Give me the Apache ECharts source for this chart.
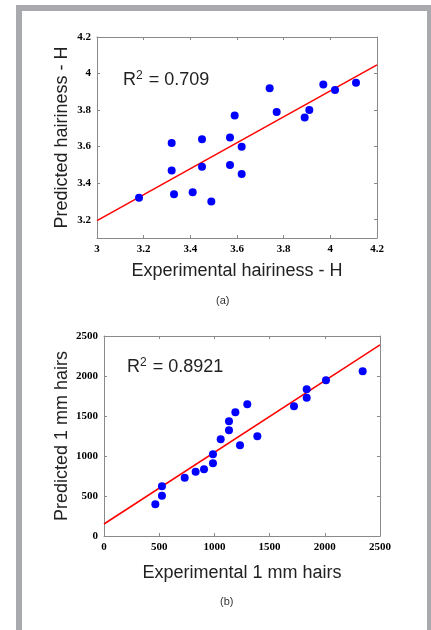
<!DOCTYPE html>
<html>
<head>
<meta charset="utf-8">
<script src="https://cdn.jsdelivr.net/npm/echarts@6/dist/echarts.min.js"></script>
<style>
  html, body { margin: 0; padding: 0; background: #fff; }
  #frame {
    position: absolute; left: 16px; top: 5px; width: 405px; height: 640px;
    border: 6px solid #a9aaad; border-bottom: none;
  }
  #chart { position: absolute; left: 0; top: 0; width: 431px; height: 630px; }
</style>
</head>
<body>
<div id="frame"></div>
<div id="chart"></div>
<script>
// (a) hairiness H
var hairExp  = [3.18, 3.32, 3.32, 3.33, 3.41, 3.45, 3.45, 3.49, 3.57, 3.57, 3.59, 3.62, 3.62, 3.74, 3.77, 3.89, 3.91, 3.97, 4.02, 4.11];
var hairPred = [3.32, 3.62, 3.47, 3.34, 3.35, 3.64, 3.49, 3.30, 3.65, 3.50, 3.77, 3.60, 3.45, 3.92, 3.79, 3.76, 3.80, 3.94, 3.91, 3.95];
var hairFitX = [3.0, 4.2];
var hairFitY = [3.195, 4.047];
var hairTicksY = [3.2, 3.4, 3.6, 3.8, 4, 4.2];

// (b) 1 mm hairs
var mmExp  = [465, 525, 525, 731, 830, 906, 987, 987, 1057, 1132, 1132, 1190, 1232, 1298, 1389, 1721, 1836, 1836, 2011, 2343];
var mmPred = [396, 621, 504, 729, 804, 833, 908, 1021, 1208, 1321, 1433, 1546, 1133, 1646, 1246, 1621, 1729, 1833, 1946, 2058];
var mmFitX = [0, 2500];
var mmFitY = [150, 2390];

var r2a = '0.709';
var r2b = '0.8921';

function pairs(xs, ys) {
  return xs.map(function (x, i) { return [x, ys[i]]; });
}

var axisGray = '#8a8a8a';
var tickFont = { fontFamily: 'Liberation Serif', fontWeight: 'bold', fontSize: 11, color: '#000' };
var nameFont = { fontFamily: 'Liberation Sans', fontSize: 18, color: '#222' };

function boxAxis(base, pos, showLabel) {
  var a = {
    type: 'value', position: pos, gridIndex: base.gridIndex,
    min: base.min, max: base.max, interval: base.interval,
    axisLine: { show: true, onZero: false, lineStyle: { color: axisGray, width: 1 } },
    axisTick: { show: true, inside: true, length: 3, lineStyle: { color: axisGray } },
    axisLabel: Object.assign({ show: showLabel, margin: 6, formatter: function (v) { return String(+v.toFixed(2)); } }, tickFont),
    splitLine: { show: false }
  };
  if (base.custom) {
    a.axisTick.customValues = base.custom;
    a.axisLabel.customValues = base.custom;
  }
  if (showLabel && base.name) {
    a.name = base.name;
    a.nameLocation = 'middle';
    a.nameGap = base.nameGap;
    a.nameMoveOverlap = false;
    a.nameTextStyle = nameFont;
  }
  return a;
}

var chart = echarts.init(document.getElementById('chart'));

var r2Style = { fontFamily: 'Liberation Sans', fontSize: 18, fontWeight: 'normal', color: '#222',
  rich: { s: { fontSize: 12, verticalAlign: 'top', padding: [0, 1, 8, 0] } } };

var option = {
  animation: false,
  title: [
    { text: 'R{s|2} = ' + r2a, left: 123, top: 70, padding: 0, textStyle: r2Style },
    { text: 'R{s|2} = ' + r2b, left: 127, top: 357, padding: 0, textStyle: r2Style },
    { text: '(a)', left: 216, top: 295, padding: 0, textStyle: { fontFamily: 'Liberation Sans', fontSize: 11, fontWeight: 'normal', color: '#333' } },
    { text: '(b)', left: 220, top: 596, padding: 0, textStyle: { fontFamily: 'Liberation Sans', fontSize: 11, fontWeight: 'normal', color: '#333' } }
  ],
  grid: [
    { left: 97, top: 37, width: 280, height: 201 },
    { left: 104, top: 336, width: 276, height: 200 }
  ],
  xAxis: [
    boxAxis({ gridIndex: 0, min: 3, max: 4.2, interval: 0.2, name: 'Experimental hairiness - H', nameGap: 24 }, 'bottom', true),
    boxAxis({ gridIndex: 0, min: 3, max: 4.2, interval: 0.2 }, 'top', false),
    boxAxis({ gridIndex: 1, min: 0, max: 2500, interval: 500, name: 'Experimental 1 mm hairs', nameGap: 28 }, 'bottom', true),
    boxAxis({ gridIndex: 1, min: 0, max: 2500, interval: 500 }, 'top', false)
  ],
  yAxis: [
    boxAxis({ gridIndex: 0, min: 3.1, max: 4.2, custom: hairTicksY, name: 'Predicted hairiness - H', nameGap: 26 }, 'left', true),
    boxAxis({ gridIndex: 0, min: 3.1, max: 4.2, custom: hairTicksY }, 'right', false),
    boxAxis({ gridIndex: 1, min: 0, max: 2500, interval: 500, name: 'Predicted 1 mm hairs', nameGap: 33 }, 'left', true),
    boxAxis({ gridIndex: 1, min: 0, max: 2500, interval: 500 }, 'right', false)
  ],
  series: [
    { type: 'line', xAxisIndex: 0, yAxisIndex: 0, data: pairs(hairFitX, hairFitY), showSymbol: false,
      lineStyle: { color: '#ff0000', width: 1.5 }, z: 2 },
    { type: 'scatter', xAxisIndex: 0, yAxisIndex: 0, data: pairs(hairExp, hairPred), symbolSize: 8,
      itemStyle: { color: '#0000ff', opacity: 1 }, z: 3 },
    { type: 'line', xAxisIndex: 2, yAxisIndex: 2, data: pairs(mmFitX, mmFitY), showSymbol: false,
      lineStyle: { color: '#ff0000', width: 1.5 }, z: 2 },
    { type: 'scatter', xAxisIndex: 2, yAxisIndex: 2, data: pairs(mmExp, mmPred), symbolSize: 8,
      itemStyle: { color: '#0000ff', opacity: 1 }, z: 3 }
  ]
};

chart.setOption(option);
</script>
</body>
</html>
